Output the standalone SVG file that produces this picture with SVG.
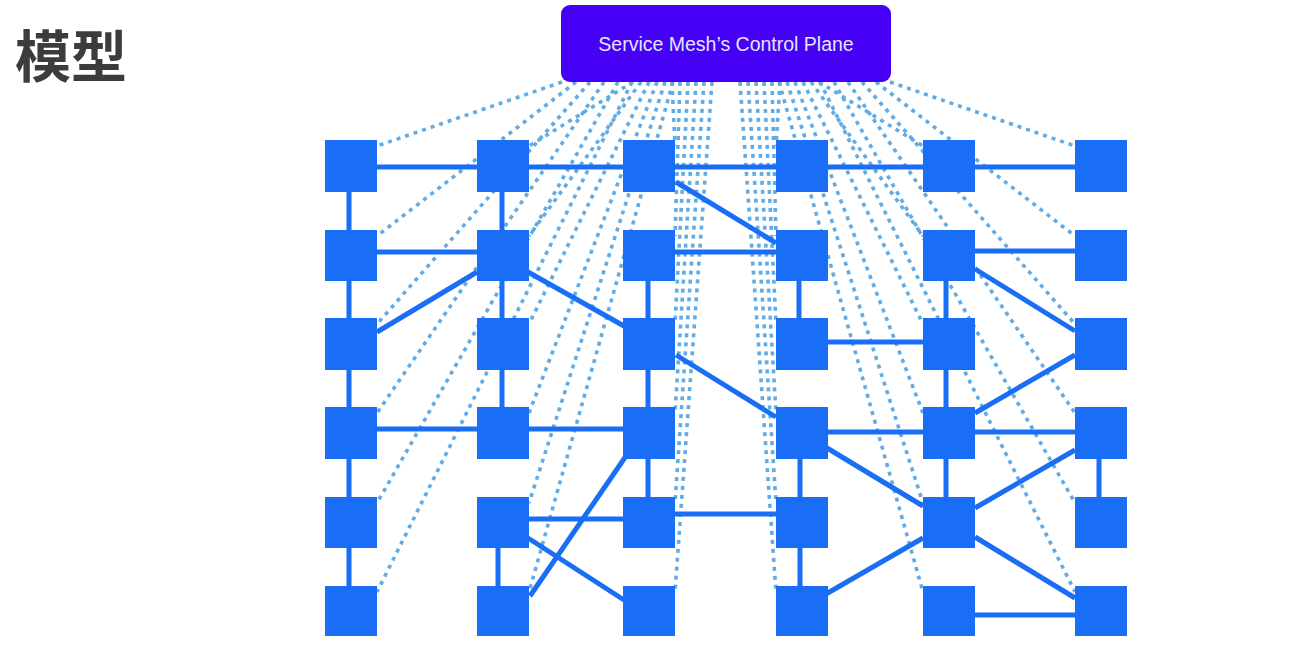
<svg xmlns="http://www.w3.org/2000/svg" width="1299" height="649" viewBox="0 0 1299 649">
  <style>
    .dot { stroke: #62ace6; stroke-width: 3.6; stroke-dasharray: 4 5; fill: none; }
    .edge { stroke: #1a6ef5; stroke-width: 5; fill: none; }
    .node rect { fill: #1a6ef5; }
    .title { font-family: "Noto Sans CJK SC", "Noto Sans", sans-serif; font-weight: 700; font-size: 56px; fill: #3c3c3c; }
    .cp-label { font-family: "Liberation Sans", Arial, sans-serif; font-size: 19.5px; fill: #e2e6ff; }
  </style>
  <rect width="1299" height="649" fill="#ffffff"/>
  <text class="title" x="15" y="77">模型</text>

  <g id="control-links">
    <line class="dot" x1="562" y1="82" x2="377" y2="146"/>
    <line class="dot" x1="633" y1="82" x2="529" y2="146"/>
    <line class="dot" x1="672" y1="82" x2="675" y2="146"/>
    <line class="dot" x1="780" y1="82" x2="776" y2="146"/>
    <line class="dot" x1="819" y1="82" x2="923" y2="146"/>
    <line class="dot" x1="890" y1="82" x2="1075" y2="146"/>
    <line class="dot" x1="576" y1="82" x2="377" y2="236"/>
    <line class="dot" x1="641" y1="82" x2="529" y2="236"/>
    <line class="dot" x1="680" y1="82" x2="675" y2="236"/>
    <line class="dot" x1="772" y1="82" x2="776" y2="236"/>
    <line class="dot" x1="811" y1="82" x2="923" y2="236"/>
    <line class="dot" x1="876" y1="82" x2="1075" y2="236"/>
    <line class="dot" x1="590" y1="82" x2="377" y2="324"/>
    <line class="dot" x1="649" y1="82" x2="529" y2="324"/>
    <line class="dot" x1="688" y1="82" x2="675" y2="324"/>
    <line class="dot" x1="764" y1="82" x2="776" y2="324"/>
    <line class="dot" x1="803" y1="82" x2="923" y2="324"/>
    <line class="dot" x1="862" y1="82" x2="1075" y2="324"/>
    <line class="dot" x1="604" y1="82" x2="377" y2="413"/>
    <line class="dot" x1="657" y1="82" x2="529" y2="413"/>
    <line class="dot" x1="696" y1="82" x2="675" y2="413"/>
    <line class="dot" x1="756" y1="82" x2="776" y2="413"/>
    <line class="dot" x1="795" y1="82" x2="923" y2="413"/>
    <line class="dot" x1="848" y1="82" x2="1075" y2="413"/>
    <line class="dot" x1="618" y1="82" x2="377" y2="503"/>
    <line class="dot" x1="665" y1="82" x2="529" y2="503"/>
    <line class="dot" x1="704" y1="82" x2="675" y2="503"/>
    <line class="dot" x1="748" y1="82" x2="776" y2="503"/>
    <line class="dot" x1="787" y1="82" x2="923" y2="503"/>
    <line class="dot" x1="834" y1="82" x2="1075" y2="503"/>
    <line class="dot" x1="632" y1="82" x2="377" y2="592"/>
    <line class="dot" x1="673" y1="82" x2="529" y2="592"/>
    <line class="dot" x1="712" y1="82" x2="675" y2="592"/>
    <line class="dot" x1="740" y1="82" x2="776" y2="592"/>
    <line class="dot" x1="779" y1="82" x2="923" y2="592"/>
    <line class="dot" x1="820" y1="82" x2="1075" y2="592"/>
  </g>

  <g id="connectors">
    <line class="edge" x1="351" y1="167" x2="1101" y2="167"/>
    <line class="edge" x1="676" y1="182" x2="776" y2="243"/>
    <line class="edge" x1="349" y1="166" x2="349" y2="611"/>
    <line class="edge" x1="351" y1="252" x2="503" y2="252"/>
    <line class="edge" x1="649" y1="252" x2="802" y2="252"/>
    <line class="edge" x1="949" y1="251" x2="1101" y2="251"/>
    <line class="edge" x1="502" y1="166" x2="502" y2="433"/>
    <line class="edge" x1="498" y1="522" x2="498" y2="611"/>
    <line class="edge" x1="648" y1="256" x2="648" y2="522"/>
    <line class="edge" x1="799" y1="256" x2="799" y2="344"/>
    <line class="edge" x1="800" y1="433" x2="800" y2="611"/>
    <line class="edge" x1="946" y1="256" x2="946" y2="522"/>
    <line class="edge" x1="1099" y1="433" x2="1099" y2="522"/>
    <line class="edge" x1="802" y1="342" x2="949" y2="342"/>
    <line class="edge" x1="351" y1="429" x2="649" y2="429"/>
    <line class="edge" x1="802" y1="432" x2="1101" y2="432"/>
    <line class="edge" x1="503" y1="519" x2="649" y2="519"/>
    <line class="edge" x1="649" y1="514" x2="802" y2="514"/>
    <line class="edge" x1="949" y1="615" x2="1101" y2="615"/>
    <line class="edge" x1="377" y1="332" x2="477" y2="272"/>
    <line class="edge" x1="528" y1="272" x2="624" y2="326"/>
    <line class="edge" x1="530" y1="596" x2="626" y2="456"/>
    <line class="edge" x1="528" y1="538" x2="624" y2="600"/>
    <line class="edge" x1="676" y1="355" x2="776" y2="417"/>
    <line class="edge" x1="975" y1="269" x2="1075" y2="331"/>
    <line class="edge" x1="975" y1="413" x2="1075" y2="355"/>
    <line class="edge" x1="827" y1="448" x2="923" y2="506"/>
    <line class="edge" x1="826" y1="594" x2="923" y2="538"/>
    <line class="edge" x1="975" y1="508" x2="1075" y2="450"/>
    <line class="edge" x1="975" y1="537" x2="1075" y2="598"/>
  </g>

  <g id="control-plane">
    <rect x="561" y="5" width="330" height="77" rx="9" fill="#4500f5"/>
    <text class="cp-label" x="726" y="51" text-anchor="middle">Service Mesh’s Control Plane</text>
  </g>

  <g id="n-0-0" class="node"><rect x="325" y="140" width="52" height="52"/></g>
  <g id="n-0-1" class="node"><rect x="477" y="140" width="52" height="52"/></g>
  <g id="n-0-2" class="node"><rect x="623" y="140" width="52" height="52"/></g>
  <g id="n-0-3" class="node"><rect x="776" y="140" width="52" height="52"/></g>
  <g id="n-0-4" class="node"><rect x="923" y="140" width="52" height="52"/></g>
  <g id="n-0-5" class="node"><rect x="1075" y="140" width="52" height="52"/></g>

  <g id="n-1-0" class="node"><rect x="325" y="230" width="52" height="51"/></g>
  <g id="n-1-1" class="node"><rect x="477" y="230" width="52" height="51"/></g>
  <g id="n-1-2" class="node"><rect x="623" y="230" width="52" height="51"/></g>
  <g id="n-1-3" class="node"><rect x="776" y="230" width="52" height="51"/></g>
  <g id="n-1-4" class="node"><rect x="923" y="230" width="52" height="51"/></g>
  <g id="n-1-5" class="node"><rect x="1075" y="230" width="52" height="51"/></g>

  <g id="n-2-0" class="node"><rect x="325" y="318" width="52" height="52"/></g>
  <g id="n-2-1" class="node"><rect x="477" y="318" width="52" height="52"/></g>
  <g id="n-2-2" class="node"><rect x="623" y="318" width="52" height="52"/></g>
  <g id="n-2-3" class="node"><rect x="776" y="318" width="52" height="52"/></g>
  <g id="n-2-4" class="node"><rect x="923" y="318" width="52" height="52"/></g>
  <g id="n-2-5" class="node"><rect x="1075" y="318" width="52" height="52"/></g>

  <g id="n-3-0" class="node"><rect x="325" y="407" width="52" height="52"/></g>
  <g id="n-3-1" class="node"><rect x="477" y="407" width="52" height="52"/></g>
  <g id="n-3-2" class="node"><rect x="623" y="407" width="52" height="52"/></g>
  <g id="n-3-3" class="node"><rect x="776" y="407" width="52" height="52"/></g>
  <g id="n-3-4" class="node"><rect x="923" y="407" width="52" height="52"/></g>
  <g id="n-3-5" class="node"><rect x="1075" y="407" width="52" height="52"/></g>

  <g id="n-4-0" class="node"><rect x="325" y="497" width="52" height="51"/></g>
  <g id="n-4-1" class="node"><rect x="477" y="497" width="52" height="51"/></g>
  <g id="n-4-2" class="node"><rect x="623" y="497" width="52" height="51"/></g>
  <g id="n-4-3" class="node"><rect x="776" y="497" width="52" height="51"/></g>
  <g id="n-4-4" class="node"><rect x="923" y="497" width="52" height="51"/></g>
  <g id="n-4-5" class="node"><rect x="1075" y="497" width="52" height="51"/></g>

  <g id="n-5-0" class="node"><rect x="325" y="586" width="52" height="50"/></g>
  <g id="n-5-1" class="node"><rect x="477" y="586" width="52" height="50"/></g>
  <g id="n-5-2" class="node"><rect x="623" y="586" width="52" height="50"/></g>
  <g id="n-5-3" class="node"><rect x="776" y="586" width="52" height="50"/></g>
  <g id="n-5-4" class="node"><rect x="923" y="586" width="52" height="50"/></g>
  <g id="n-5-5" class="node"><rect x="1075" y="586" width="52" height="50"/></g>
</svg>
